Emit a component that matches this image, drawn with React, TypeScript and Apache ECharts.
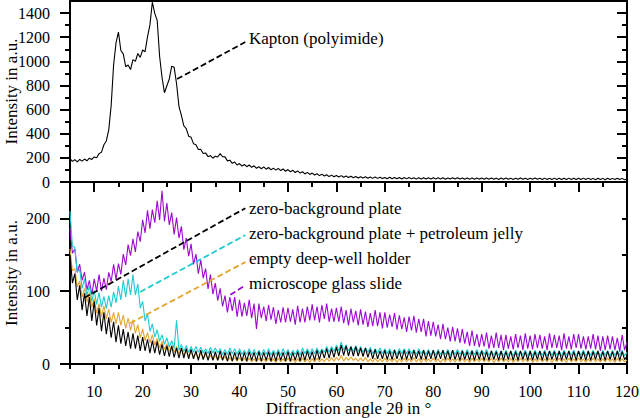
import React, { useEffect, useRef } from "react";
import * as echarts from "echarts";

// Diffraction angle sampling: 5° to 120° in 0.5° steps
const angleStart = 5;
const angleStep = 0.5;

// Tick values
const xTickLabels = [10, 20, 30, 40, 50, 60, 70, 80, 90, 100, 110, 120];
const xMinorTicks = [5, 15, 25, 35, 45, 55, 65, 75, 85, 95, 105, 115];
const topTicks = [0, 200, 400, 600, 800, 1000, 1200, 1400];
const topMinorTicks = [100, 300, 500, 700, 900, 1100, 1300];
const bottomTicks = [0, 100, 200];
const bottomMinorTicks = [50, 150];
const bottomRightTicks = [50, 100, 150, 200];

// Kapton (polyimide) intensity
const kapton = [
  193, 171, 185, 167, 187, 173, 190, 176, 197, 187,
  208, 201, 235, 247, 309, 340, 432, 635, 970, 1152,
  1243, 1090, 1062, 955, 970, 932, 1014, 1000, 1065, 1033,
  1094, 1080, 1202, 1302, 1490, 1398, 1340, 1042, 866, 740,
  798, 854, 960, 950, 814, 624, 552, 466, 442, 380,
  370, 318, 309, 269, 270, 236, 241, 210, 219, 197,
  214, 207, 235, 209, 208, 175, 181, 155, 165, 141,
  153, 132, 145, 127, 141, 122, 134, 114, 127, 110,
  125, 106, 120, 101, 115, 98, 113, 95, 108, 89,
  103, 85, 97, 79, 92, 74, 85, 67, 80, 63,
  74, 58, 68, 53, 65, 50, 60, 45, 57, 43,
  54, 41, 53, 39, 50, 38, 48, 35, 45, 33,
  44, 33, 43, 31, 41, 30, 41, 30, 40, 29,
  38, 27, 39, 27, 38, 27, 37, 25, 37, 26,
  37, 26, 36, 24, 36, 25, 36, 25, 35, 24,
  35, 24, 36, 24, 35, 23, 34, 24, 35, 24,
  35, 24, 34, 23, 33, 22, 34, 23, 33, 23,
  33, 22, 33, 23, 33, 22, 32, 21, 33, 22,
  33, 22, 32, 21, 32, 22, 33, 22, 32, 21,
  32, 22, 33, 22, 32, 20, 32, 21, 31, 21,
  32, 21, 31, 20, 31, 21, 32, 21, 31, 20,
  31, 21, 32, 21, 32, 20, 30, 19, 31, 20,
  30, 19, 31, 20, 30, 20, 31, 20, 30, 19,
  25,
];

// microscope glass slide
const glassSlide = [
  187, 152, 158, 126, 137, 115, 126, 102, 115, 95,
  117, 100, 123, 100, 118, 102, 126, 113, 137, 116,
  138, 123, 151, 136, 164, 149, 172, 154, 182, 168,
  198, 180, 211, 186, 212, 194, 224, 198, 238, 196,
  221, 191, 208, 178, 201, 173, 189, 157, 173, 148,
  165, 137, 151, 124, 143, 118, 131, 103, 123, 96,
  111, 87, 104, 79, 94, 71, 92, 73, 92, 65,
  88, 65, 84, 66, 88, 63, 83, 48, 83, 63,
  79, 59, 81, 61, 78, 55, 74, 57, 78, 57,
  77, 58, 75, 54, 80, 57, 76, 57, 79, 60,
  82, 60, 79, 57, 81, 62, 83, 58, 76, 58,
  77, 58, 79, 56, 74, 53, 76, 57, 73, 53,
  75, 54, 72, 51, 70, 52, 74, 52, 71, 49,
  71, 50, 68, 51, 70, 47, 67, 48, 64, 44,
  65, 46, 66, 43, 62, 44, 62, 38, 59, 39,
  58, 38, 54, 34, 55, 34, 50, 31, 51, 31,
  49, 29, 48, 28, 44, 25, 46, 25, 41, 23,
  41, 24, 43, 21, 39, 22, 43, 22, 40, 19,
  40, 21, 38, 20, 41, 22, 39, 19, 42, 21,
  39, 20, 41, 22, 40, 21, 38, 19, 42, 22,
  40, 22, 39, 19, 42, 21, 38, 20, 41, 22,
  41, 21, 38, 20, 38, 21, 41, 20, 39, 18,
  38, 19, 39, 20, 38, 19, 36, 17, 40, 19,
  30,
];

// zero-background plate + petroleum jelly
const petroleumJelly = [
  210, 162, 160, 126, 130, 104, 117, 94, 108, 86,
  101, 82, 98, 78, 93, 76, 94, 78, 99, 84,
  107, 88, 115, 92, 117, 95, 123, 95, 110, 77,
  86, 59, 69, 45, 55, 37, 47, 31, 40, 27,
  36, 23, 32, 21, 60, 19, 27, 17, 25, 16,
  24, 16, 24, 16, 23, 15, 21, 14, 23, 15,
  22, 15, 21, 13, 20, 13, 22, 14, 21, 13,
  21, 13, 19, 13, 21, 12, 20, 13, 19, 12,
  20, 13, 21, 12, 19, 13, 20, 12, 21, 13,
  20, 12, 19, 13, 20, 12, 22, 14, 21, 13,
  21, 14, 22, 14, 21, 16, 24, 16, 24, 17,
  26, 18, 30, 19, 26, 18, 24, 17, 25, 17,
  24, 16, 22, 16, 23, 14, 21, 15, 22, 14,
  21, 14, 21, 14, 20, 13, 21, 14, 21, 14,
  21, 14, 20, 13, 21, 14, 19, 13, 20, 12,
  19, 12, 20, 13, 19, 13, 20, 12, 19, 13,
  20, 13, 19, 12, 20, 13, 19, 13, 20, 12,
  19, 13, 20, 12, 18, 12, 19, 12, 18, 11,
  19, 12, 18, 11, 19, 12, 18, 12, 19, 11,
  18, 11, 19, 12, 18, 12, 19, 11, 18, 12,
  19, 12, 18, 11, 19, 12, 18, 12, 19, 11,
  18, 12, 19, 11, 18, 12, 19, 12, 18, 11,
  19, 12, 18, 11, 19, 12, 18, 12, 19, 11,
  16,
];

// empty deep-well holder
const deepWell = [
  158, 128, 131, 106, 114, 92, 104, 85, 98, 78,
  90, 70, 83, 65, 80, 62, 75, 57, 71, 55,
  71, 53, 67, 49, 63, 46, 61, 42, 54, 36,
  48, 32, 43, 29, 40, 26, 35, 22, 31, 20,
  28, 17, 25, 16, 24, 14, 21, 12, 19, 11,
  17, 9, 15, 8, 15, 7, 13, 7, 12, 6,
  12, 5, 11, 6, 10, 4, 9, 4, 9, 4,
  9, 4, 8, 3, 8, 3, 7, 3, 8, 3,
  7, 3, 8, 3, 7, 2, 8, 3, 7, 3,
  8, 3, 7, 2, 7, 3, 8, 3, 7, 2,
  7, 3, 8, 3, 7, 3, 8, 4, 9, 4,
  9, 5, 12, 4, 9, 5, 10, 5, 8, 4,
  8, 4, 9, 3, 7, 3, 8, 3, 7, 3,
  8, 3, 7, 3, 8, 2, 7, 3, 8, 3,
  7, 3, 9, 3, 7, 2, 8, 3, 7, 3,
  8, 3, 7, 2, 7, 3, 8, 3, 7, 3,
  7, 3, 8, 3, 7, 2, 8, 3, 7, 3,
  8, 3, 7, 3, 8, 2, 7, 3, 8, 3,
  7, 3, 8, 2, 7, 3, 8, 3, 7, 3,
  8, 2, 7, 3, 8, 3, 7, 3, 8, 2,
  7, 3, 8, 3, 7, 2, 8, 3, 7, 3,
  8, 3, 7, 2, 7, 3, 8, 3, 7, 3,
  7, 3, 8, 3, 7, 2, 8, 3, 7, 3,
  5,
];

// zero-background plate
const zeroBackground = [
  150, 111, 124, 88, 108, 74, 97, 66, 92, 59,
  86, 53, 77, 45, 71, 41, 64, 36, 58, 30,
  53, 28, 48, 25, 44, 21, 42, 21, 39, 18,
  37, 18, 34, 15, 32, 15, 31, 13, 27, 11,
  25, 10, 25, 9, 22, 8, 22, 8, 21, 7,
  20, 7, 18, 5, 19, 6, 17, 5, 18, 5,
  17, 5, 18, 5, 16, 4, 17, 4, 16, 5,
  17, 4, 16, 4, 17, 5, 16, 4, 17, 4,
  16, 5, 17, 4, 16, 4, 17, 5, 16, 4,
  17, 4, 16, 5, 17, 4, 17, 5, 18, 6,
  17, 5, 19, 6, 19, 8, 21, 8, 21, 9,
  23, 11, 26, 12, 25, 11, 24, 11, 24, 11,
  22, 10, 22, 9, 20, 7, 20, 7, 18, 7,
  19, 6, 18, 6, 19, 7, 18, 6, 19, 6,
  18, 6, 19, 7, 18, 6, 19, 6, 18, 7,
  19, 6, 18, 7, 19, 6, 18, 6, 19, 6,
  17, 5, 18, 6, 17, 5, 18, 5, 17, 6,
  18, 5, 17, 5, 18, 6, 17, 5, 18, 5,
  17, 6, 18, 5, 17, 5, 18, 6, 17, 5,
  18, 5, 17, 6, 18, 5, 17, 5, 18, 6,
  17, 5, 18, 5, 17, 6, 18, 5, 17, 5,
  18, 6, 17, 5, 18, 5, 17, 6, 18, 5,
  17, 5, 18, 6, 17, 5, 18, 5, 17, 6,
  11,
];

// Annotation leader lines (data coordinates)
const kaptonLeader = [[27.1, 853], [41.2, 1160]];
const zeroLeader = [[8.0, 91], [41.2, 214]];
const jellyLeader = [[19.5, 99], [41.2, 177]];
const deepLeader = [[17.4, 56], [41.2, 140]];
const glassLeader = [[38.1, 95], [41.2, 108]];

const FONT = "Liberation Serif";
const BLACK = "#000000";
const CYAN = "#1ecbd2";
const ORANGE = "#e3a52c";
const PURPLE = "#9c0ad0";

const toPairs = (vals: number[]) =>
  vals.map((v, i) => [angleStart + i * angleStep, v]);

const lineStyle = { color: "#000", width: 2 };

function xAx(gridIndex: number, opts: any) {
  return {
    type: "value",
    gridIndex,
    min: 5,
    max: 120,
    position: "bottom",
    splitLine: { show: false },
    axisLine: { show: false, onZero: false, lineStyle },
    axisTick: { show: false },
    axisLabel: { show: false },
    nameMoveOverlap: false,
    ...opts,
  };
}
function yAx(gridIndex: number, min: number, max: number, opts: any) {
  return {
    type: "value",
    gridIndex,
    min,
    max,
    position: "left",
    splitLine: { show: false },
    axisLine: { show: false, onZero: false, lineStyle },
    axisTick: { show: false },
    axisLabel: { show: false },
    nameMoveOverlap: false,
    ...opts,
  };
}
function ticks(values: number[], length: number, inside = false) {
  return {
    show: true,
    customValues: values,
    length,
    inside,
    lineStyle: { color: "#000", width: 2 },
  };
}

function leader(pts: number[][], color: string) {
  return {
    silent: true,
    symbol: ["none", "none"],
    label: { show: false },
    emphasis: { disabled: true },
    lineStyle: { type: [6, 3], color, width: 1.8 },
    data: [[{ coord: pts[0] }, { coord: pts[1] }]],
  };
}

function traceSeries(
  data: number[],
  color: string,
  xi: number,
  yi: number,
  pts: number[][]
) {
  return {
    type: "line",
    xAxisIndex: xi,
    yAxisIndex: yi,
    data: toPairs(data),
    showSymbol: false,
    symbol: "none",
    silent: true,
    lineStyle: { color, width: 1.1 },
    itemStyle: { color },
    markLine: leader(pts, color),
  };
}

export default function App() {
  const ref = useRef<HTMLDivElement>(null);
  useEffect(() => {
    if (!ref.current) return;
    const chart = echarts.init(ref.current, undefined, { renderer: "svg" });
    const labelStyle = {
      color: "#000",
      fontSize: 16,
      fontFamily: FONT,
      formatter: (v: number) => String(v),
    };
    const nameStyle = { color: "#000", fontSize: 17, fontFamily: FONT };
    const option: any = {
      animation: false,
      textStyle: { fontFamily: FONT },
      grid: [
        { left: 70, right: 13, top: 1, height: 181, outerBoundsMode: "none", containLabel: false },
        { left: 70, right: 13, top: 182, height: 182, outerBoundsMode: "none", containLabel: false },
      ],
      xAxis: [
        // grid 0
        xAx(0, {
          axisLine: { show: true, onZero: false, lineStyle },
          axisTick: ticks(xTickLabels, 10),
        }),
        xAx(0, { axisTick: ticks(xMinorTicks, 5) }),
        xAx(0, {
          position: "top",
          axisLine: { show: true, onZero: false, lineStyle },
        }),
        // grid 1
        xAx(1, {
          axisLine: { show: true, onZero: false, lineStyle },
          axisTick: ticks(xTickLabels, 10),
          axisLabel: {
            show: true,
            customValues: xTickLabels,
            margin: 19,
            ...labelStyle,
          },
          name: "Diffraction angle 2θ in °",
          nameLocation: "middle",
          nameGap: 36,
          nameTextStyle: nameStyle,
        }),
        xAx(1, { axisTick: ticks(xMinorTicks, 5) }),
      ],
      yAxis: [
        // grid 0
        yAx(0, 0, 1500, {
          axisLine: { show: true, onZero: false, lineStyle },
          axisTick: ticks(topTicks, 10),
          axisLabel: {
            show: true,
            customValues: topTicks,
            margin: 20,
            ...labelStyle,
          },
          name: "Intensity in a.u.",
          nameLocation: "middle",
          nameGap: 50,
          nameTextStyle: nameStyle,
        }),
        yAx(0, 0, 1500, { axisTick: ticks(topMinorTicks, 5) }),
        yAx(0, 0, 1500, {
          position: "right",
          axisLine: { show: true, onZero: false, lineStyle },
          axisTick: ticks(topTicks.filter((v) => v > 0), 10, true),
        }),
        yAx(0, 0, 1500, {
          position: "right",
          axisTick: ticks(topMinorTicks, 5, true),
        }),
        // grid 1
        yAx(1, 0, 250, {
          axisLine: { show: true, onZero: false, lineStyle },
          axisTick: ticks(bottomTicks, 10),
          axisLabel: {
            show: true,
            customValues: bottomTicks,
            margin: 20,
            ...labelStyle,
          },
          name: "Intensity in a.u.",
          nameLocation: "middle",
          nameGap: 50,
          nameTextStyle: nameStyle,
        }),
        yAx(1, 0, 250, { axisTick: ticks(bottomMinorTicks, 5) }),
        yAx(1, 0, 250, {
          position: "right",
          axisLine: { show: true, onZero: false, lineStyle },
          axisTick: ticks(bottomRightTicks, 5, true),
        }),
      ],
      series: [
        traceSeries(kapton, BLACK, 0, 0, kaptonLeader),
        traceSeries(glassSlide, PURPLE, 3, 4, glassLeader),
        traceSeries(petroleumJelly, CYAN, 3, 4, jellyLeader),
        traceSeries(deepWell, ORANGE, 3, 4, deepLeader),
        traceSeries(zeroBackground, BLACK, 3, 4, zeroLeader),
      ],
      graphic: [
        ["Kapton (polyimide)", 38],
        ["zero-background plate", 208],
        ["zero-background plate + petroleum jelly", 233],
        ["empty deep-well holder", 258],
        ["microscope glass slide", 283],
      ].map(([text, y]) => ({
        type: "text",
        x: 249,
        y: y as number,
        silent: true,
        z: 100,
        style: {
          text: text as string,
          fill: "#000",
          fontSize: 17,
          fontFamily: FONT,
          verticalAlign: "middle",
          align: "left",
        },
      })),
    };
    chart.setOption(option);
    return () => chart.dispose();
  }, []);
  return (
    <div
      ref={ref}
      style={{
        position: "fixed",
        left: 0,
        top: 0,
        width: 640,
        height: 418,
        background: "#fff",
      }}
    />
  );
}
